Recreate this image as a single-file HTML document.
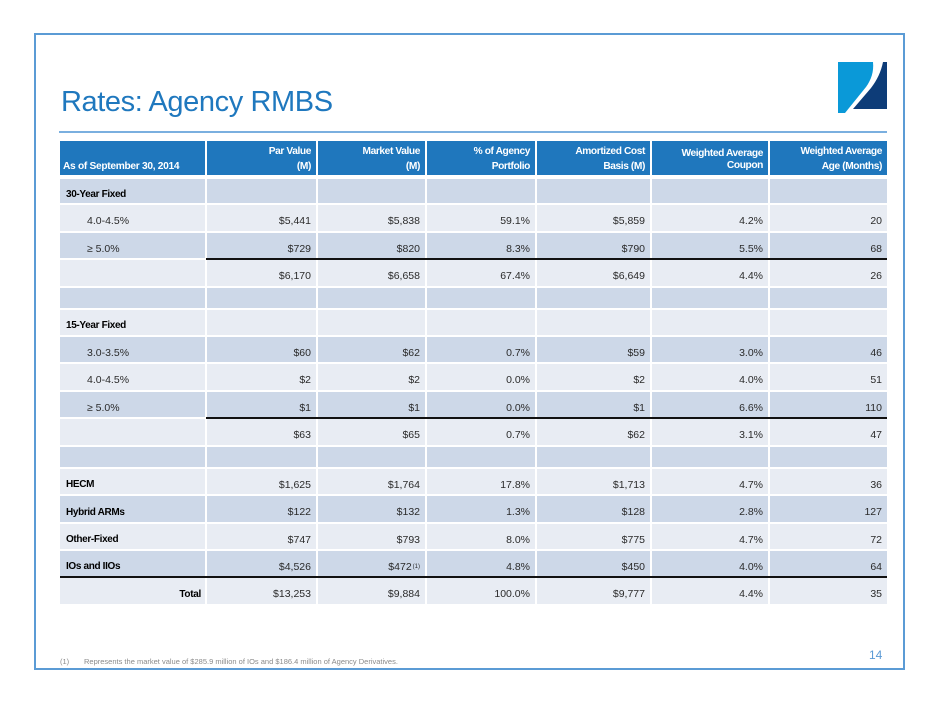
<!DOCTYPE html>
<html><head><meta charset="utf-8"><style>
*{margin:0;padding:0}
html,body{width:940px;height:705px;background:#fff;overflow:hidden}
body{position:relative;font-family:"Liberation Sans",sans-serif}
.frame{position:absolute;left:34px;top:33px;width:867px;height:633px;border:2px solid #5b9bd5}
.title{position:absolute;left:61px;top:87px;font-size:29px;line-height:30px;color:#1f78be;letter-spacing:-0.4px;white-space:nowrap}
.rule{position:absolute;left:59px;top:131px;width:828px;height:2px;background:#7aafdf}
.r{position:absolute;left:0;width:940px}
.c{position:absolute;top:0;bottom:0;box-sizing:border-box;padding-top:6px;padding-right:5px;display:flex;align-items:center;justify-content:flex-end;white-space:nowrap;font-size:10.5px;color:#2a2a2a}
.d .c{background:#cdd8e8}
.l .c{background:#e8ecf3}
.c0{left:60px;width:145px;justify-content:flex-start;padding-left:27px}
.c1{left:207px;width:109px}
.c2{left:318px;width:107px}
.c3{left:427px;width:108px}
.c4{left:537px;width:113px}
.c5{left:652px;width:116px}
.c6{left:770px;width:117px}
.c0.b{padding-left:6px;font-weight:bold;font-size:10px;letter-spacing:-0.35px;color:#000}
.c0.t{justify-content:flex-end;padding-right:4px;padding-left:0;font-weight:bold;font-size:10px;letter-spacing:-0.3px;color:#000}
.h .c{background:#1f77bd;color:#fff;font-weight:bold;font-size:10.2px;letter-spacing:-0.4px;display:block;text-align:right;line-height:15.4px;padding-top:2.6px}
.h .c0{text-align:left;padding-left:3px;padding-top:18px;letter-spacing:-0.3px}
.h .wc{line-height:12.5px;padding-top:6.8px}
.line{position:absolute;height:2px;background:#111}
sup{font-size:6px;vertical-align:4px;margin-left:1px}
.foot{position:absolute;top:657px;font-size:7.5px;color:#8a8a8a;white-space:nowrap;line-height:9px}
.pg{position:absolute;left:869px;top:648px;font-size:12px;line-height:14px;color:#5b9bd5}
</style></head><body>
<div class="frame"></div>
<svg style="position:absolute;left:0;top:0" width="940" height="705">
<path d="M838,62 H873 C874,72 871,80 866,87 L845,113 H838 Z" fill="#0a99d8"/>
<path d="M883,62 H887 V109 H853 L871,88 C877,80 881,72 883,62 Z" fill="#0d3c78"/>
</svg>
<div class="title">Rates: Agency RMBS</div>
<div class="rule"></div>

<div class="r h" style="top:141px;height:34px">
<div class="c c0">As of September 30, 2014</div>
<div class="c c1">Par Value<br>(M)</div>
<div class="c c2">Market Value<br>(M)</div>
<div class="c c3">% of Agency<br>Portfolio</div>
<div class="c c4">Amortized Cost<br>Basis (M)</div>
<div class="c c5 wc">Weighted Average<br>Coupon</div>
<div class="c c6">Weighted Average<br>Age (Months)</div>
</div>

<div class="r d" style="top:179px;height:24px"><div class="c c0 b">30-Year Fixed</div><div class="c c1"></div><div class="c c2"></div><div class="c c3"></div><div class="c c4"></div><div class="c c5"></div><div class="c c6"></div></div>
<div class="r l" style="top:205px;height:26px"><div class="c c0">4.0-4.5%</div><div class="c c1">$5,441</div><div class="c c2">$5,838</div><div class="c c3">59.1%</div><div class="c c4">$5,859</div><div class="c c5">4.2%</div><div class="c c6">20</div></div>
<div class="r d" style="top:233px;height:25px"><div class="c c0">≥ 5.0%</div><div class="c c1">$729</div><div class="c c2">$820</div><div class="c c3">8.3%</div><div class="c c4">$790</div><div class="c c5">5.5%</div><div class="c c6">68</div></div>
<div class="line" style="left:206px;top:258px;width:681px"></div>
<div class="r l" style="top:260px;height:26px"><div class="c c0"></div><div class="c c1">$6,170</div><div class="c c2">$6,658</div><div class="c c3">67.4%</div><div class="c c4">$6,649</div><div class="c c5">4.4%</div><div class="c c6">26</div></div>
<div class="r d" style="top:288px;height:20px"><div class="c c0"></div><div class="c c1"></div><div class="c c2"></div><div class="c c3"></div><div class="c c4"></div><div class="c c5"></div><div class="c c6"></div></div>
<div class="r l" style="top:310px;height:25px"><div class="c c0 b">15-Year Fixed</div><div class="c c1"></div><div class="c c2"></div><div class="c c3"></div><div class="c c4"></div><div class="c c5"></div><div class="c c6"></div></div>
<div class="r d" style="top:337px;height:25px"><div class="c c0">3.0-3.5%</div><div class="c c1">$60</div><div class="c c2">$62</div><div class="c c3">0.7%</div><div class="c c4">$59</div><div class="c c5">3.0%</div><div class="c c6">46</div></div>
<div class="r l" style="top:364px;height:26px"><div class="c c0">4.0-4.5%</div><div class="c c1">$2</div><div class="c c2">$2</div><div class="c c3">0.0%</div><div class="c c4">$2</div><div class="c c5">4.0%</div><div class="c c6">51</div></div>
<div class="r d" style="top:392px;height:25px"><div class="c c0">≥ 5.0%</div><div class="c c1">$1</div><div class="c c2">$1</div><div class="c c3">0.0%</div><div class="c c4">$1</div><div class="c c5">6.6%</div><div class="c c6">110</div></div>
<div class="line" style="left:206px;top:417px;width:681px"></div>
<div class="r l" style="top:419px;height:26px"><div class="c c0"></div><div class="c c1">$63</div><div class="c c2">$65</div><div class="c c3">0.7%</div><div class="c c4">$62</div><div class="c c5">3.1%</div><div class="c c6">47</div></div>
<div class="r d" style="top:447px;height:20px"><div class="c c0"></div><div class="c c1"></div><div class="c c2"></div><div class="c c3"></div><div class="c c4"></div><div class="c c5"></div><div class="c c6"></div></div>
<div class="r l" style="top:469px;height:25px"><div class="c c0 b">HECM</div><div class="c c1">$1,625</div><div class="c c2">$1,764</div><div class="c c3">17.8%</div><div class="c c4">$1,713</div><div class="c c5">4.7%</div><div class="c c6">36</div></div>
<div class="r d" style="top:496px;height:26px"><div class="c c0 b">Hybrid ARMs</div><div class="c c1">$122</div><div class="c c2">$132</div><div class="c c3">1.3%</div><div class="c c4">$128</div><div class="c c5">2.8%</div><div class="c c6">127</div></div>
<div class="r l" style="top:524px;height:25px"><div class="c c0 b">Other-Fixed</div><div class="c c1">$747</div><div class="c c2">$793</div><div class="c c3">8.0%</div><div class="c c4">$775</div><div class="c c5">4.7%</div><div class="c c6">72</div></div>
<div class="r d" style="top:551px;height:25px"><div class="c c0 b">IOs and IIOs</div><div class="c c1">$4,526</div><div class="c c2">$472<sup>(1)</sup></div><div class="c c3">4.8%</div><div class="c c4">$450</div><div class="c c5">4.0%</div><div class="c c6">64</div></div>
<div class="line" style="left:60px;top:576px;width:827px"></div>
<div class="r l" style="top:578px;height:26px"><div class="c c0 t">Total</div><div class="c c1">$13,253</div><div class="c c2">$9,884</div><div class="c c3">100.0%</div><div class="c c4">$9,777</div><div class="c c5">4.4%</div><div class="c c6">35</div></div>

<div class="foot" style="left:60px">(1)</div>
<div class="foot" style="left:84px">Represents the market value of $285.9 million of IOs and $186.4 million of Agency Derivatives.</div>
<div class="pg">14</div>
</body></html>
